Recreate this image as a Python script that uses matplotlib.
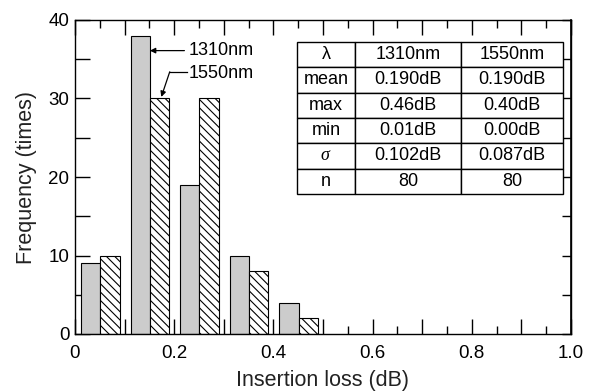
import matplotlib
matplotlib.use("Agg")
import matplotlib.pyplot as plt
from matplotlib.ticker import MultipleLocator, FuncFormatter

plt.rcParams['font.family'] = ['Liberation Sans', 'DejaVu Sans']
plt.rcParams['hatch.linewidth'] = 0.8
plt.rcParams['mathtext.fontset'] = 'custom'
plt.rcParams['mathtext.it'] = 'Liberation Serif:italic'

# Data
bin_starts = [0.0, 0.1, 0.2, 0.3, 0.4]
freq_1310 = [9, 38, 19, 10, 4]
freq_1550 = [10, 30, 30, 8, 2]

table_header = ["λ", "1310nm", "1550nm"]
table_rows = [
    ["mean", "0.190dB", "0.190dB"],
    ["max", "0.46dB", "0.40dB"],
    ["min", "0.01dB", "0.00dB"],
    [r"$\sigma$", "0.102dB", "0.087dB"],
    ["n", "80", "80"],
]

fig = plt.figure(figsize=(5.89, 3.92), dpi=100)
ax = fig.add_axes([75/589, 1 - 334/392, 496/589, 314/392])

offset = 0.012
width = 0.039
x1310 = [b + offset for b in bin_starts]
x1550 = [b + offset + width for b in bin_starts]
ax.bar(x1310, freq_1310, width=width, align='edge', color='#cccccc',
       edgecolor='black', linewidth=0.8, zorder=2)
ax.bar(x1550, freq_1550, width=width, align='edge', color='white',
       edgecolor='black', linewidth=0.8, hatch='\\\\\\\\', zorder=2)

ax.set_xlim(0, 1.0)
ax.set_ylim(0, 40)

ax.xaxis.set_major_locator(MultipleLocator(0.1))
ax.xaxis.set_minor_locator(MultipleLocator(0.05))

def xfmt(v, pos):
    k = round(v * 10)
    if k % 2 != 0:
        return ""
    if k == 0:
        return "0"
    return "%.1f" % (k / 10)

ax.xaxis.set_major_formatter(FuncFormatter(xfmt))
ax.yaxis.set_major_locator(MultipleLocator(10))
ax.yaxis.set_minor_locator(MultipleLocator(5))

ax.tick_params(axis='x', which='major', direction='in', length=11, width=1,
               top=True, bottom=True, labelsize=13.5, pad=8)
ax.tick_params(axis='x', which='minor', direction='in', length=5.5, width=1,
               top=True, bottom=True)
ax.tick_params(axis='y', which='both', direction='in', length=11, width=1,
               left=True, right=False, labelsize=13.5, pad=4)

sec = ax.secondary_yaxis('right')
sec.yaxis.set_major_locator(MultipleLocator(5))
sec.tick_params(direction='in', length=6.5, width=1, labelright=False)
sec.spines['right'].set_linewidth(1.2)

for s in ax.spines.values():
    s.set_linewidth(1.0)

ax.set_xlabel("Insertion loss (dB)", fontsize=15.5, labelpad=6, color='#222222')
ax.set_ylabel("Frequency (times)", fontsize=15.5, labelpad=8, color='#222222')

# Annotations
ax.annotate("1310nm", xy=(x1310[1] + width, 36.1), xytext=(0.229, 36.1),
            fontsize=13, ha='left', va='center',
            arrowprops=dict(arrowstyle='-|>', color='black', lw=0.9,
                            mutation_scale=8, shrinkA=1, shrinkB=0))
ax.text(0.229, 33.2, "1550nm", fontsize=13, ha='left', va='center')
ax.plot([0.226, 0.191], [33.4, 33.4], color='black', lw=0.9)
ax.annotate("", xy=(0.174, 30.2), xytext=(0.191, 33.4),
            arrowprops=dict(arrowstyle='-|>', color='black', lw=0.9,
                            mutation_scale=8, shrinkA=0, shrinkB=0))

# Table
cells = [table_header] + table_rows
tbl = ax.table(cellText=cells, cellLoc='center',
               colWidths=[58/266, 106/266, 102/266],
               bbox=[(297-75)/496, (334-194)/314, 266/496, 152/314])
tbl.auto_set_font_size(False)
tbl.set_fontsize(13)
for (r, c), cell in tbl.get_celld().items():
    cell.set_linewidth(1.0)
    cell.set_edgecolor('black')
    cell.set_facecolor('white')
tbl.set_zorder(3)

fig.savefig("out.png", dpi=100)
